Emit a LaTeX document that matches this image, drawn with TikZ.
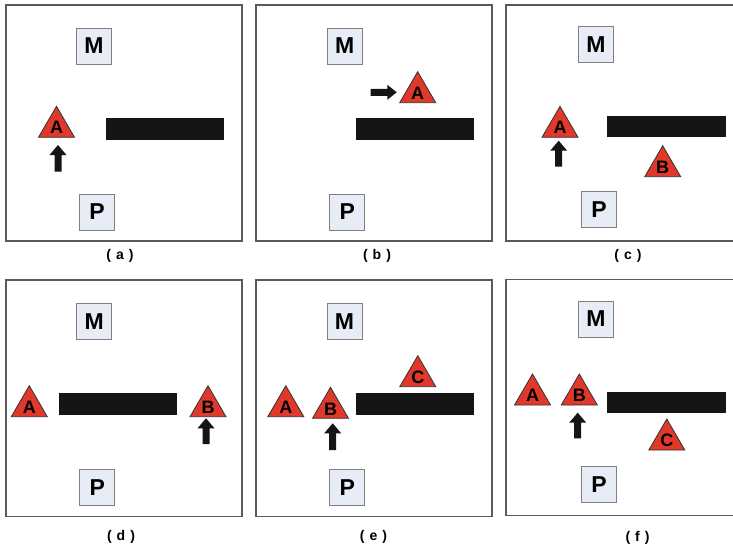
\documentclass[tikz,border=0pt]{standalone}
\usepackage{fontspec}
\setmainfont{Liberation Sans}
\definecolor{trired}{HTML}{E0382A}
\definecolor{boxfill}{HTML}{E8ECF6}
\definecolor{boxline}{HTML}{7F7F7F}
\definecolor{framecol}{HTML}{5A5A5A}
\definecolor{barcol}{HTML}{151515}
\tikzset{
  panel/.style={draw=framecol, line width=1.2pt},
  letterbox/.style={draw=boxline, fill=boxfill, line width=1pt, minimum width=35pt, minimum height=36pt, inner sep=0pt, font=\bfseries\fontsize{23}{23}\selectfont},
  trishape/.style={draw=black!80, fill=trired, line width=0.8pt, line join=miter},
  trilabel/.style={inner sep=0pt, font=\bfseries\fontsize{18}{18}\selectfont},
  bar/.style={fill=barcol},
  blockarrow/.style={fill=barcol},
  caption/.style={inner sep=0pt, font=\bfseries\fontsize{14}{14}\selectfont}
}
% triangle: name, x centre, base y, label
\newcommand{\mytri}[4]{%
  \draw[trishape] (#2-18,#3) -- (#2,#3-31) -- (#2+18,#3) -- cycle;
  \node[trilabel] (#1) at (#2,#3-9.5) {#4};}
% up arrow: x centre, bottom y, top y
\newcommand{\uparr}[3]{%
  \fill[blockarrow] (#1-3.5,#2) -- (#1-3.5,#3+10) -- (#1-8.5,#3+10) -- (#1,#3) -- (#1+8.5,#3+10) -- (#1+3.5,#3+10) -- (#1+3.5,#2) -- cycle;}
\newcommand{\capt}[1]{(\hspace{5pt}#1\hspace{5pt})}
\begin{document}
\begin{tikzpicture}[x=1pt,y=-1pt]
\useasboundingbox (0,0) rectangle (733,552);
\clip (0,0) rectangle (733,552);
% ---------- (a)
\draw[panel] (6,5) rectangle (242,241);
\node[letterbox] (aM) at (94,46) {M};
\node[letterbox] (aP) at (97,212) {P};
\fill[bar] (106,118) rectangle (224,140);
\mytri{aA}{56.5}{137.3}{A}
\uparr{58}{171.7}{145}
\node[caption] (la) at (120,256) {\capt{a}};
% ---------- (b)
\draw[panel] (256,5) rectangle (492,241);
\node[letterbox] (bM) at (344.7,46) {M};
\node[letterbox] (bP) at (347.2,212) {P};
\fill[bar] (355.7,118) rectangle (474.3,140);
\mytri{bA}{417.7}{102.7}{A}
\fill[blockarrow] (370.7,88.8) -- (387.3,88.8) -- (387.3,84.8) -- (396.7,92.3) -- (387.3,99.8) -- (387.3,95.8) -- (370.7,95.8) -- cycle;
\node[caption] (lb) at (377,256) {\capt{b}};
% ---------- (c)
\draw[panel] (506,5) rectangle (745,241);
\node[letterbox] (cM) at (596,44.3) {M};
\node[letterbox] (cP) at (599,209.7) {P};
\fill[bar] (607.3,116) rectangle (726,137.3);
\mytri{cA}{560}{137.3}{A}
\uparr{558.7}{166.7}{140.7}
\mytri{cB}{662.7}{176.7}{B}
\node[caption] (lc) at (628,256) {\capt{c}};
% ---------- (d)
\draw[panel] (6,280) rectangle (242,516.7);
\node[letterbox] (dM) at (94.2,321.3) {M};
\node[letterbox] (dP) at (97.2,487.2) {P};
\fill[bar] (58.7,393.3) rectangle (177,415);
\mytri{dA}{29.3}{416.7}{A}
\mytri{dB}{208}{416.7}{B}
\uparr{206}{444}{418.3}
\node[caption] (ld) at (121,537) {\capt{d}};
% ---------- (e)
\draw[panel] (256,280) rectangle (492,516.7);
\node[letterbox] (eM) at (344.5,321.3) {M};
\node[letterbox] (eP) at (347.3,487.2) {P};
\fill[bar] (356,393.3) rectangle (474.3,415);
\mytri{eA}{285.8}{416.7}{A}
\mytri{eB}{330.5}{418.3}{B}
\uparr{332.7}{450}{423.3}
\mytri{eC}{417.8}{386.7}{C}
\node[caption] (le) at (373.5,537) {\capt{e}};
% ---------- (f)
\draw[panel] (506,279.3) rectangle (745,515.7);
\node[letterbox] (fM) at (596,319) {M};
\node[letterbox] (fP) at (599,484.5) {P};
\fill[bar] (607.3,391.7) rectangle (726,412.7);
\mytri{fA}{532.5}{405}{A}
\mytri{fB}{579.3}{405}{B}
\uparr{577.7}{438.3}{412.7}
\mytri{fC}{666.8}{450}{C}
\node[caption] (lf) at (637.5,538) {\capt{f}};
\end{tikzpicture}
\end{document}
